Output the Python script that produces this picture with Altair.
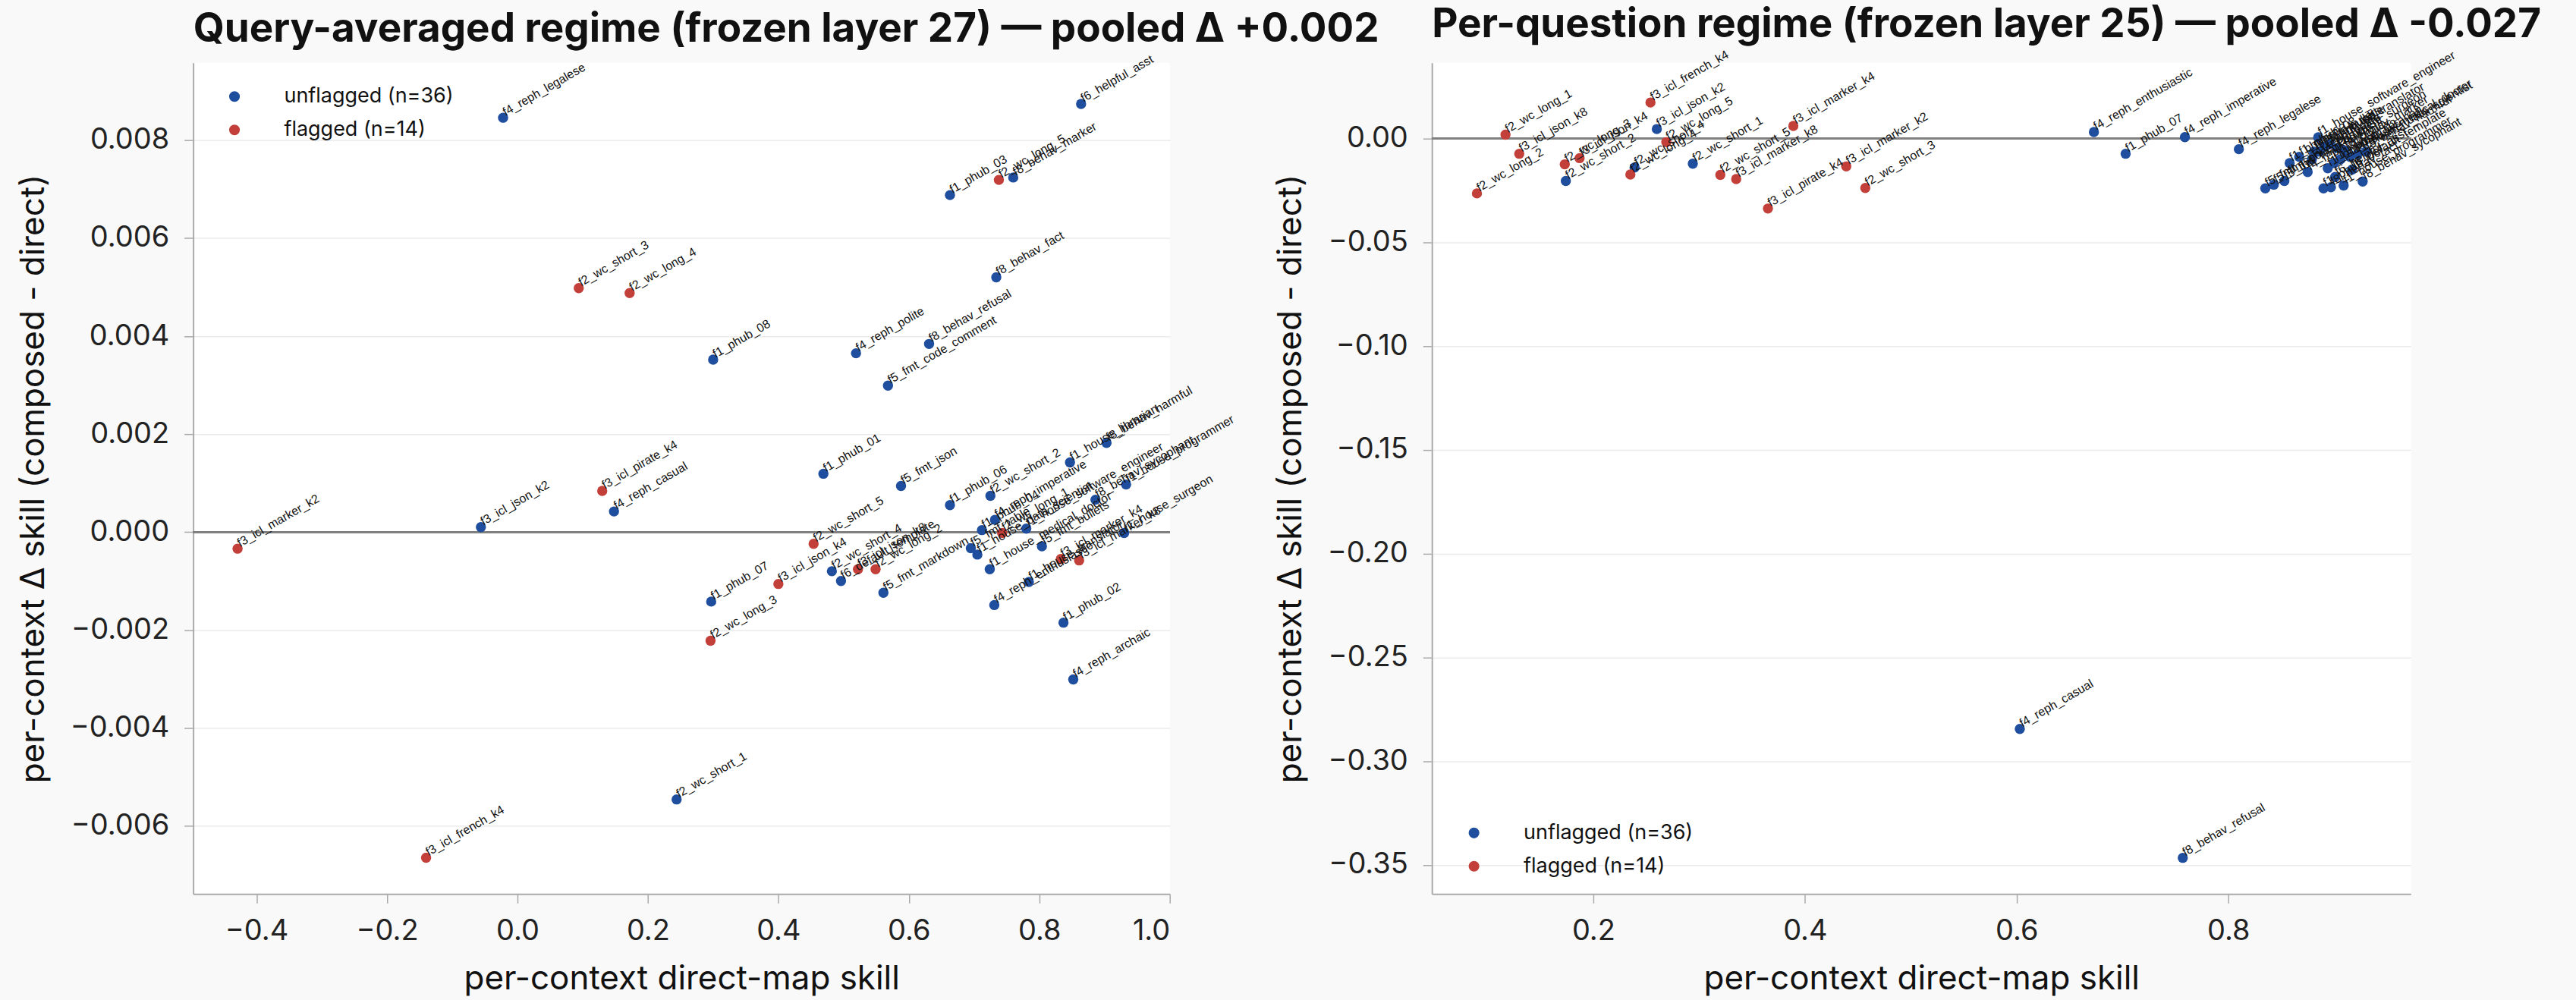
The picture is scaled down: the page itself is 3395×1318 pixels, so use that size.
import altair as alt
import pandas as pd

# Per-context skill deltas for the two frozen-layer regimes.
names = [
    "f4_reph_legalese", "f6_helpful_asst", "f1_phub_03", "f8_behav_marker",
    "f8_behav_fact", "f8_behav_refusal", "f4_reph_polite", "f1_phub_08",
    "f5_fmt_code_comment", "f3_icl_json_k2", "f4_reph_casual", "f1_phub_07",
    "f1_phub_02", "f4_reph_archaic", "f2_wc_short_1", "f1_phub_01",
    "f5_fmt_json", "f1_phub_06", "f2_wc_short_2", "f1_house_librarian",
    "f8_behav_harmful", "f4_reph_imperative", "f1_phub_04",
    "f1_house_software_engineer", "f8_behav_sycophant", "f1_house_programmer",
    "f1_house_surgeon", "f5_fmt_bullets", "f5_fmt_markdown", "f5_fmt_table",
    "f1_house_data_scientist", "f1_house_medical_doctor", "f2_wc_short_4",
    "f6_default_template", "f4_reph_enthusiastic", "f1_house_translator",
    "f2_wc_short_3", "f2_wc_short_5", "f2_wc_long_1", "f2_wc_long_2",
    "f2_wc_long_3", "f2_wc_long_4", "f2_wc_long_5", "f3_icl_json_k4",
    "f3_icl_json_k8", "f3_icl_pirate_k4", "f3_icl_french_k4",
    "f3_icl_marker_k2", "f3_icl_marker_k4", "f3_icl_marker_k8",
]
flagged = [False] * 36 + [True] * 14

# query-averaged regime (frozen layer 27)
qa_direct = [
    -0.022, 0.864, 0.663, 0.760, 0.734, 0.631, 0.519, 0.300, 0.568, -0.056,
    0.148, 0.297, 0.837, 0.852, 0.244, 0.469, 0.588, 0.663, 0.725, 0.847,
    0.903, 0.732, 0.712, 0.780, 0.886, 0.933, 0.930, 0.804, 0.561, 0.695,
    0.705, 0.724, 0.482, 0.496, 0.731, 0.784,
    0.094, 0.454, 0.743, 0.549, 0.296, 0.172, 0.738, 0.400, 0.522, 0.130,
    -0.140, -0.429, 0.833, 0.861,
]
qa_delta = [
    0.00846, 0.00874, 0.00688, 0.00724, 0.00520, 0.00384, 0.00365, 0.00352,
    0.00299, 0.00010, 0.00042, -0.00142, -0.00185, -0.00301, -0.00546,
    0.00119, 0.00094, 0.00055, 0.00074, 0.00142, 0.00182, 0.00025, 0.00004,
    0.00007, 0.00066, 0.00097, -0.00002, -0.00029, -0.00124, -0.00033,
    -0.00046, -0.00076, -0.00080, -0.00100, -0.00149, -0.00102,
    0.00498, -0.00024, -0.00002, -0.00076, -0.00222, 0.00488, 0.00719,
    -0.00106, -0.00076, 0.00084, -0.00665, -0.00034, -0.00055, -0.00058,
]

# per-question regime (frozen layer 25)
pq_direct = [
    0.810, 0.901, 0.858, 0.910, 0.897, 0.757, 0.879, 0.867, 0.843, 0.260,
    0.603, 0.703, 0.906, 0.875, 0.294, 0.894, 0.835, 0.890, 0.174, 0.900,
    0.930, 0.759, 0.886, 0.885, 0.927, 0.909, 0.903, 0.881, 0.853, 0.891,
    0.922, 0.915, 0.239, 0.917, 0.673, 0.896,
    0.457, 0.320, 0.117, 0.090, 0.173, 0.235, 0.269, 0.187, 0.130, 0.365,
    0.254, 0.439, 0.389, 0.335,
]
pq_delta = [
    -0.0051, -0.0185, -0.0118, -0.0057, -0.0234, -0.3466, -0.0100, -0.0088,
    -0.0222, 0.0046, -0.2845, -0.0073, -0.0100, -0.0161, -0.0121, -0.0143,
    -0.0240, -0.0240, -0.0204, -0.0118, -0.0063, 0.0007, -0.0063, 0.0006,
    -0.0207, -0.0226, -0.0045, -0.0063, -0.0204, -0.0039, -0.0076, -0.0088,
    -0.0139, -0.0149, 0.0032, -0.0027,
    -0.0238, -0.0175, 0.0019, -0.0264, -0.0124, -0.0173, -0.0017, -0.0094,
    -0.0073, -0.0337, 0.0174, -0.0134, 0.0061, -0.0195,
]

BLUE = "#1f4e9f"
RED = "#c3403a"

n_flag = sum(flagged)
n_unflag = len(names) - n_flag
lab_unflag = f"unflagged (n={n_unflag})"
lab_flag = f"flagged (n={n_flag})"

df = pd.DataFrame({
    "context": names,
    "group": [lab_flag if f else lab_unflag for f in flagged],
    "qa_direct": qa_direct,
    "qa_delta": qa_delta,
    "pq_direct": pq_direct,
    "pq_delta": pq_delta,
})

X_TITLE = "per-context direct-map skill"
Y_TITLE = "per-context Δ skill (composed - direct)"


def panel(xcol, ycol, xdom, ydom, xticks, yticks, yfmt, title, legend_xy,
          width, height):
    xscale = alt.Scale(domain=xdom, nice=False, zero=False)
    yscale = alt.Scale(domain=ydom, nice=False, zero=False)
    xaxis = alt.Axis(values=xticks, format=".1f", title=X_TITLE, grid=False)
    yaxis = alt.Axis(values=yticks, format=yfmt, title=Y_TITLE, grid=True)
    x = alt.X(xcol, type="quantitative", scale=xscale, axis=xaxis)
    y = alt.Y(ycol, type="quantitative", scale=yscale, axis=yaxis)

    # horizontal reference line at zero delta
    zero = alt.Chart(df).mark_rule(color="#808080", strokeWidth=2.5).encode(
        y=alt.YDatum(0, scale=yscale, axis=yaxis, title=Y_TITLE)
    )
    dots = alt.Chart(df).mark_circle(size=180, opacity=1).encode(
        x=x, y=y,
        color=alt.Color(
            "group:N",
            scale=alt.Scale(domain=[lab_unflag, lab_flag], range=[BLUE, RED]),
            legend=alt.Legend(title=None, orient="none",
                              legendX=legend_xy[0], legendY=legend_xy[1]),
        ),
    )
    labels = alt.Chart(df).mark_text(
        align="left", baseline="alphabetic", angle=330, dx=4, dy=0,
        fontSize=16, font="Liberation Sans", color="#111111",
    ).encode(x=x, y=y, text="context:N")

    return alt.layer(zero, dots, labels).properties(
        width=width, height=height,
        title=alt.TitleParams(title, anchor="start", frame="group"),
    )


left = panel(
    "qa_direct", "qa_delta", [-0.497, 1.0], [-0.00739, 0.00958],
    [-0.4, -0.2, 0.0, 0.2, 0.4, 0.6, 0.8, 1.0],
    [-0.006, -0.004, -0.002, 0.0, 0.002, 0.004, 0.006, 0.008], ".3f",
    "Query-averaged regime (frozen layer 27) — pooled Δ +0.002", (22, 12),
    1289, 1097,
)
right = panel(
    "pq_direct", "pq_delta", [0.0475, 0.9725], [-0.364, 0.0365],
    [0.2, 0.4, 0.6, 0.8],
    [-0.35, -0.30, -0.25, -0.20, -0.15, -0.10, -0.05, 0.0], ".2f",
    "Per-question regime (frozen layer 25) — pooled Δ -0.027", (23, 984),
    1292, 1097,
)

chart = (
    alt.hconcat(left, right, spacing=346, bounds="flush")
    .resolve_scale(color="independent")
    .resolve_legend(color="independent")
    .properties(background="#f9f9f9",
                padding={"left": 22, "top": 5, "right": 45, "bottom": 8})
    .configure_view(fill="white", strokeWidth=0)
    .configure_axis(
        domainColor="#aaaaaa", domainWidth=2, tickColor="#aaaaaa", tickWidth=1.5,
        tickSize=12, labelFont="Inter", labelFontSize=38, labelColor="#222222",
        titleFont="Inter", titleFontSize=44, titleFontWeight="normal",
        titleColor="#111111", gridColor="#ebebeb", gridWidth=1.5,
    )
    .configure_axisX(labelPadding=18, titlePadding=22)
    .configure_axisY(labelPadding=20, titlePadding=26)
    .configure_legend(
        labelFont="Inter", labelFontSize=27, labelColor="#111111", labelLimit=0,
        symbolSize=200, symbolType="circle", rowPadding=16, labelOffset=52,
        padding=19,
    )
    .configure_title(font="Inter", fontSize=53, fontWeight="bold",
                     color="#111111", offset=0)
)

chart.save("out.html", embed_options={"renderer": "svg", "actions": False})
